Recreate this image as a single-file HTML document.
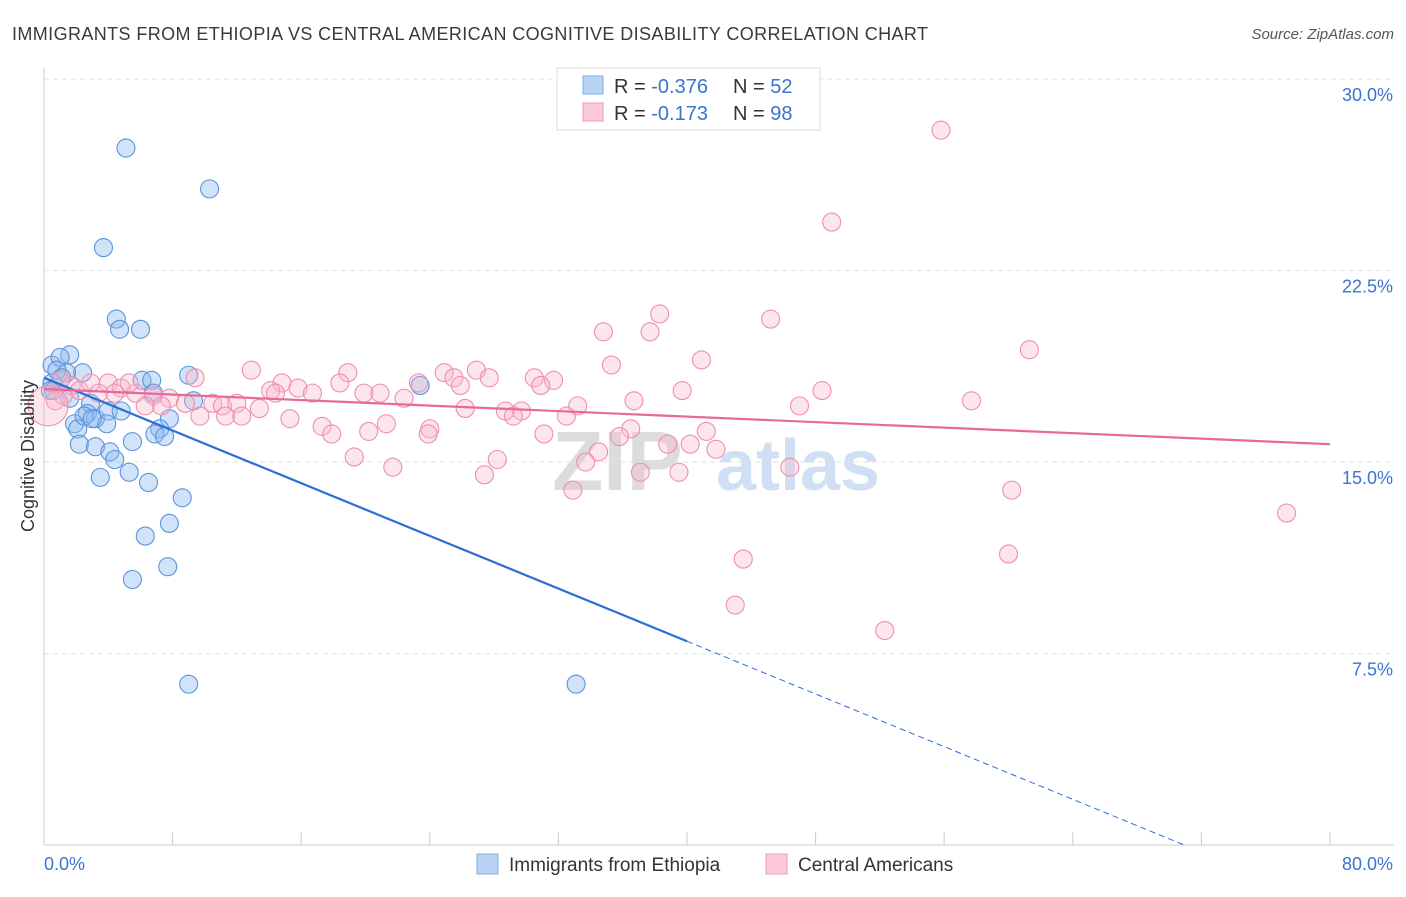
<!DOCTYPE html>
<html><head><meta charset="utf-8"><style>
body{margin:0;background:#fff;font-family:"Liberation Sans",sans-serif;}
svg text{font-family:"Liberation Sans",sans-serif;}
</style></head><body>
<svg id="chart" width="1406" height="892" viewBox="0 0 1406 892" xmlns="http://www.w3.org/2000/svg">
<text x="12" y="40" font-size="18" fill="#3a3a3a" textLength="916" lengthAdjust="spacing">IMMIGRANTS FROM ETHIOPIA VS CENTRAL AMERICAN COGNITIVE DISABILITY CORRELATION CHART</text>
<text x="1394" y="39" font-size="15" fill="#555" text-anchor="end" font-style="italic">Source: ZipAtlas.com</text>
<g>
<text x="552" y="490" font-size="84" fill="#dcdcdc" font-weight="bold" font-family="Liberation Serif">ZIP</text>
<text x="716" y="490" font-size="72" fill="#cfe0f4" font-weight="bold">atlas</text>
</g>
<g id="grid"></g>
<g id="axes"></g>
<g id="blue"></g>
<g id="pink"></g>
<g id="trends"></g>
<text transform="translate(34,456) rotate(-90)" font-size="18" fill="#333" text-anchor="middle">Cognitive Disability</text>
<g>
<rect x="557" y="68" width="263" height="62" fill="#fff" stroke="#ddd"/>
<rect x="583" y="76" width="20" height="18" fill="#b8d3f4" stroke="#7eaee6"/>
<rect x="583" y="103" width="20" height="18" fill="#fccad8" stroke="#f09ab4"/>
<text x="614" y="93" font-size="20" fill="#333">R = <tspan fill="#3b74d0">-0.376</tspan></text>
<text x="733" y="93" font-size="20" fill="#333">N = <tspan fill="#3b74d0">52</tspan></text>
<text x="614" y="120" font-size="20" fill="#333">R = <tspan fill="#3b74d0"> -0.173</tspan></text>
<text x="733" y="120" font-size="20" fill="#333">N = <tspan fill="#3b74d0">98</tspan></text>
</g>
<g>
<rect x="477" y="854" width="21" height="20" fill="#b8d3f4" stroke="#7eaee6"/>
<text x="509" y="871" font-size="19" fill="#333">Immigrants from Ethiopia</text>
<rect x="766" y="854" width="21" height="20" fill="#fccad8" stroke="#f09ab4"/>
<text x="798" y="871" font-size="19" fill="#333">Central Americans</text>
</g>
</svg>
<script>
const yTicks=[7.5,15,22.5,30];
const yTickLabels=["7.5%","15.0%","22.5%","30.0%"];
const xTickVals=[0,10,20,30,40,50,60,70,80,90,100].map(v=>v*0.8);
const blueX=[5.1,10.3,3.7,4.5,6.0,4.7,1.6,0.5,1.0,2.4,1.4,6.1,6.7,9.0,0.5,0.6,1.6,6.8,9.3,23.4,2.9,2.7,3.2,4.0,4.8,7.8,1.9,2.1,3.9,7.2,6.9,7.5,2.2,3.2,5.5,4.1,4.4,5.3,3.5,6.5,8.6,7.8,6.3,7.7,5.5,9.0,33.1,0.8,0.4,2.5,1.1,3.0];
const blueY=[27.3,25.7,23.4,20.6,20.2,20.2,19.2,18.8,19.1,18.5,18.5,18.2,18.2,18.4,18.1,17.8,17.5,17.7,17.4,18.0,17.3,16.9,16.7,17.0,17.0,16.7,16.5,16.3,16.5,16.3,16.1,16.0,15.7,15.6,15.8,15.4,15.1,14.6,14.4,14.2,13.6,12.6,12.1,10.9,10.4,6.3,6.3,18.6,17.8,16.8,18.3,16.7];
const pinkX=[55.8,49.0,38.3,45.2,34.8,37.7,61.3,40.9,35.3,12.9,18.9,24.9,26.9,27.7,25.5,9.4,30.5,31.7,23.3,18.4,25.9,30.9,14.8,15.8,16.7,14.1,14.4,19.9,20.9,22.4,39.7,48.4,36.7,33.2,57.7,47.0,4.0,4.8,5.7,6.8,7.8,8.8,10.5,11.1,12.0,13.4,9.7,11.3,12.3,7.3,6.3,26.2,28.7,29.7,29.2,32.5,15.3,17.3,21.3,17.9,20.2,24.0,23.9,31.1,36.5,35.8,41.2,38.8,40.2,41.8,34.5,33.7,28.2,19.3,21.7,27.4,37.1,39.5,46.4,32.9,60.2,77.3,60.0,43.5,43.0,52.3,1.0,1.7,2.2,2.9,3.4,1.2,0.7,0.25,4.4,5.3];
const pinkY=[28.0,24.4,20.8,20.6,20.1,20.1,19.4,19.0,18.8,18.6,18.5,18.5,18.6,18.3,18.3,18.3,18.3,18.2,18.1,18.1,18.0,18.0,18.1,17.9,17.7,17.8,17.7,17.7,17.7,17.5,17.8,17.8,17.4,17.2,17.4,17.2,18.1,17.9,17.7,17.6,17.5,17.3,17.3,17.2,17.3,17.1,16.8,16.8,16.8,17.2,17.2,17.1,17.0,17.0,16.8,16.8,16.7,16.4,16.5,16.1,16.2,16.3,16.1,16.1,16.3,16.0,16.2,15.7,15.7,15.5,15.4,15.0,15.1,15.2,14.8,14.5,14.6,14.6,14.8,13.9,13.9,13.0,11.4,11.2,9.4,8.4,18.2,18.0,17.8,18.1,17.7,17.6,17.4,17.2,17.7,18.1];
const blueTrend=[18.3,-0.258];
const pinkTrend=[17.86,-0.027];
const X=v=>44+v*16.075, Y=v=>845-v*25.53;
const NS="http://www.w3.org/2000/svg";
function mk(parent,tag,attrs){const e=document.createElementNS(NS,tag);for(const k in attrs)e.setAttribute(k,attrs[k]);document.getElementById(parent).appendChild(e);return e;}
yTicks.forEach((t,i)=>{
 const l=mk('grid','line',{x1:44,x2:1394,y1:Y(t),y2:Y(t),stroke:'#e2e2e2','stroke-dasharray':'5,4'});
 
 
 const tx=mk('grid','text',{x:1393,y:Y(t)+22,'font-size':18,fill:'#3b74d0','text-anchor':'end'});
 tx.textContent=yTickLabels[i];
 
 
});
const ax=mk('axes','line',{x1:44,x2:44,y1:68,y2:845,stroke:'#ccc'});


const bx=mk('axes','line',{x1:44,x2:1394,y1:845,y2:845,stroke:'#ccc'});


xTickVals.forEach(v=>{
 const t=mk('axes','line',{x1:X(v),x2:X(v),y1:832,y2:845,stroke:'#ccc'});
 
 
});
const x0=mk('axes','text',{x:44,y:870,'font-size':18,fill:'#3b74d0'});x0.textContent='0.0%';


const x1=mk('axes','text',{x:1393,y:870,'font-size':18,fill:'#3b74d0','text-anchor':'end'});x1.textContent='80.0%';


blueX.forEach((v,i)=>{
 const c=mk('blue','circle',{cx:X(v),cy:Y(blueY[i]),r:9,fill:'rgba(140,185,240,0.4)',stroke:'#5b93dc','stroke-width':1.1});
 
 
});
pinkX.forEach((v,i)=>{
 const c=mk('pink','circle',{cx:X(v),cy:Y(pinkY[i]),r:i==93?20:9,fill:'rgba(248,180,200,0.35)',stroke:'#ee8fae','stroke-width':1.1});
 
 
});
const bEnd=40, bZero=-blueTrend[0]/blueTrend[1];
const t1=mk('trends','line',{x1:X(0),y1:Y(blueTrend[0]),x2:X(bEnd),y2:Y(blueTrend[0]+blueTrend[1]*bEnd),stroke:'#2a6fd6','stroke-width':2.2});


const t2=mk('trends','line',{x1:X(bEnd),y1:Y(blueTrend[0]+blueTrend[1]*bEnd),x2:X(bZero),y2:Y(0),stroke:'#2a6fd6','stroke-width':1,'stroke-dasharray':'6,4'});


const t3=mk('trends','line',{x1:X(0),y1:Y(pinkTrend[0]),x2:X(80),y2:Y(pinkTrend[0]+pinkTrend[1]*80),stroke:'#e8689a','stroke-width':2.2});


</script>
</body></html>
